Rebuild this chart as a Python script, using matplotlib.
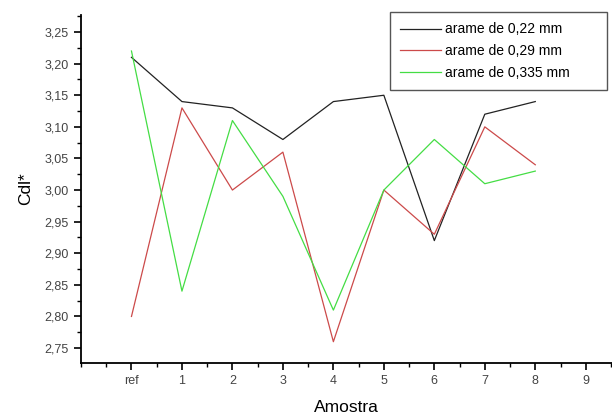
import numpy as np
import matplotlib.pyplot as plt
from matplotlib.ticker import MultipleLocator, FuncFormatter

plt.rcParams['font.family'] = ['Liberation Sans', 'DejaVu Sans']

# amostras: ref, 1..8
amostras = ["ref", "1", "2", "3", "4", "5", "6", "7", "8"]
cdl_022 = [3.21, 3.14, 3.13, 3.08, 3.14, 3.15, 2.92, 3.12, 3.14]
cdl_029 = [2.80, 3.13, 3.00, 3.06, 2.76, 3.00, 2.93, 3.10, 3.04]
cdl_0335 = [3.22, 2.84, 3.11, 2.99, 2.81, 3.00, 3.08, 3.01, 3.03]

series = [
    ("arame de 0,22 mm", cdl_022, "#222222"),
    ("arame de 0,29 mm", cdl_029, "#cc4a4a"),
    ("arame de 0,335 mm", cdl_0335, "#44dd44"),
]

W, H = 612, 420
fig = plt.figure(figsize=(W / 100, H / 100), dpi=100)
ax = fig.add_axes([81 / W, 1 - 363 / H, (W - 81) / W, (363 - 15) / H])

x = np.arange(len(amostras))
for label, vals, color in series:
    ax.plot(x, vals, color=color, lw=0.9, label=label)

ax.set_xlim(-1, 9.52)
ax.set_ylim(2.7263, 3.277)

xticks = list(range(0, 10))
xlabels = amostras + ["9"]
ax.set_xticks(xticks)
ax.set_xticklabels(xlabels)
ax.xaxis.set_minor_locator(MultipleLocator(0.5))
ax.yaxis.set_major_locator(MultipleLocator(0.05))
ax.yaxis.set_minor_locator(MultipleLocator(0.025))
ax.yaxis.set_major_formatter(FuncFormatter(lambda v, p: f"{v:.2f}".replace(".", ",")))

for side in ("top", "right"):
    ax.spines[side].set_visible(False)
for side in ("left", "bottom"):
    ax.spines[side].set_linewidth(1.3)

ax.tick_params(which="major", direction="out", length=5, width=1.2,
               labelsize=9, labelcolor="#444444", pad=4)
ax.tick_params(which="minor", direction="out", length=3, width=1.0)

ax.set_xlabel("Amostra", fontsize=12.5, labelpad=9)
ax.set_ylabel("Cdl*", fontsize=12.5, labelpad=8)

# legend box spans a fixed strip at the top right
leg = ax.legend(loc="upper left",
                bbox_to_anchor=(390 / W, 1 - 88 / H, 217 / W, 76 / H),
                bbox_transform=fig.transFigure, mode="expand", fancybox=False,
                framealpha=1, edgecolor="#555555", fontsize=10,
                handlelength=2.9, handletextpad=0.3, borderpad=0.75,
                labelspacing=0.55, borderaxespad=0)
leg.get_frame().set_linewidth(1.0)

fig.savefig("out.png", dpi=100)
